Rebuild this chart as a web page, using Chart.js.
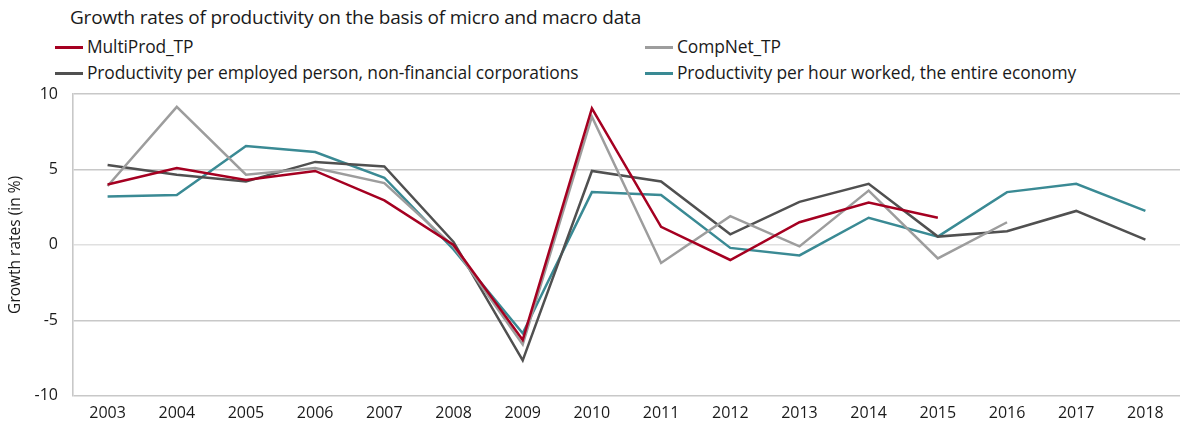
<!DOCTYPE html>
<html>
<head>
<meta charset="utf-8">
<script src="https://cdn.jsdelivr.net/npm/chart.js@4"></script>
<style>
  body { margin: 0; background: #fff; overflow: hidden; }
  #wrap { position: relative; width: 1180px; height: 429px; overflow: hidden; font-family: "Open Sans", sans-serif; color: #1a1a1a; }
  #title { position: absolute; left: 70px; top: 4px; font-size: 19px; letter-spacing: -0.2px; }
  .leg { position: absolute; font-size: 17.4px; white-space: nowrap; letter-spacing: -0.1px; }
  .leg i { display: inline-block; width: 28px; height: 3px; vertical-align: middle; margin-right: 4px; position: relative; top: -1px; }
  canvas { position: absolute; left: 0; top: 0; }
</style>
</head>
<body>
<div id="wrap">
  <div id="title">Growth rates of productivity on the basis of micro and macro data</div>
  <div class="leg" style="left:55px;top:34px"><i style="background:#a50021"></i>MultiProd_TP</div>
  <div class="leg" style="left:645px;top:34px"><i style="background:#9d9d9d"></i>CompNet_TP</div>
  <div class="leg" style="left:55px;top:60px"><i style="background:#505050"></i>Productivity per employed person, non-financial corporations</div>
  <div class="leg" style="left:645px;top:60px"><i style="background:#3a8a94"></i>Productivity per hour worked, the entire economy</div>
  <canvas id="grafica" width="1180" height="431"></canvas>
</div>
<script>
const years = ["2003","2004","2005","2006","2007","2008","2009","2010","2011","2012","2013","2014","2015","2016","2017","2018"];
const multiProd = [4.0, 5.1, 4.3, 4.9, 2.95, 0.0, -6.3, 9.05, 1.2, -1.0, 1.5, 2.8, 1.8, null, null, null];
const compNet = [3.9, 9.15, 4.65, 5.1, 4.1, -0.1, -6.6, 8.5, -1.2, 1.9, -0.1, 3.6, -0.9, 1.5, null, null];
const perEmployed = [5.3, 4.65, 4.2, 5.5, 5.2, 0.2, -7.65, 4.9, 4.2, 0.7, 2.85, 4.05, 0.55, 0.9, 2.25, 0.35];
const perHour = [3.2, 3.3, 6.55, 6.15, 4.45, -0.3, -5.85, 3.5, 3.3, -0.2, -0.7, 1.8, 0.55, 3.5, 4.05, 2.25];
const yTicks = [-10, -5, 0, 5, 10];

function serie(label, data, color) {
  return { label: label, data: data, borderColor: color, backgroundColor: color, borderWidth: 2.5, pointRadius: 0, tension: 0, spanGaps: false };
}

const ctx = document.getElementById("grafica").getContext("2d");
new Chart(ctx, {
  type: 'line',
  data: {
    labels: years,
    datasets: [
      serie('MultiProd_TP', multiProd, '#a50021'),
      serie('CompNet_TP', compNet, '#9d9d9d'),
      serie('Productivity per employed person, non-financial corporations', perEmployed, '#505050'),
      serie('Productivity per hour worked, the entire economy', perHour, '#3a8a94')
    ]
  },
  options: {
    responsive: false,
    animation: false,
    layout: { padding: { top: 94, left: 6, right: 0, bottom: 0 } },
    scales: {
      x: {
        offset: true,
        grid: { display: false, drawTicks: false },
        border: { display: false },
        ticks: { color: '#1a1a1a', font: { family: 'Open Sans', size: 16 }, padding: 8, maxRotation: 0 }
      },
      y: {
        min: -10,
        max: 10,
        afterBuildTicks: (scale) => { scale.ticks = yTicks.map(v => ({ value: v })); },
        afterFit: (scale) => { scale.width = 67; },
        grid: {
          color: (c) => c.tick && c.tick.value === 0 ? '#e0e0e0' : '#c8c8c8',
          lineWidth: 1.6,
          drawTicks: false
        },
        border: { display: true, color: '#c8c8c8', width: 1.6 },
        ticks: { color: '#1a1a1a', font: { family: 'Open Sans', size: 16 }, padding: 15 },
        title: { display: true, text: 'Growth rates (in %)', color: '#1a1a1a', font: { family: 'Open Sans', size: 15.5 }, padding: 0 }
      }
    },
    plugins: {
      legend: { display: false },
      tooltip: { enabled: false }
    }
  }
});
</script>
</body>
</html>
